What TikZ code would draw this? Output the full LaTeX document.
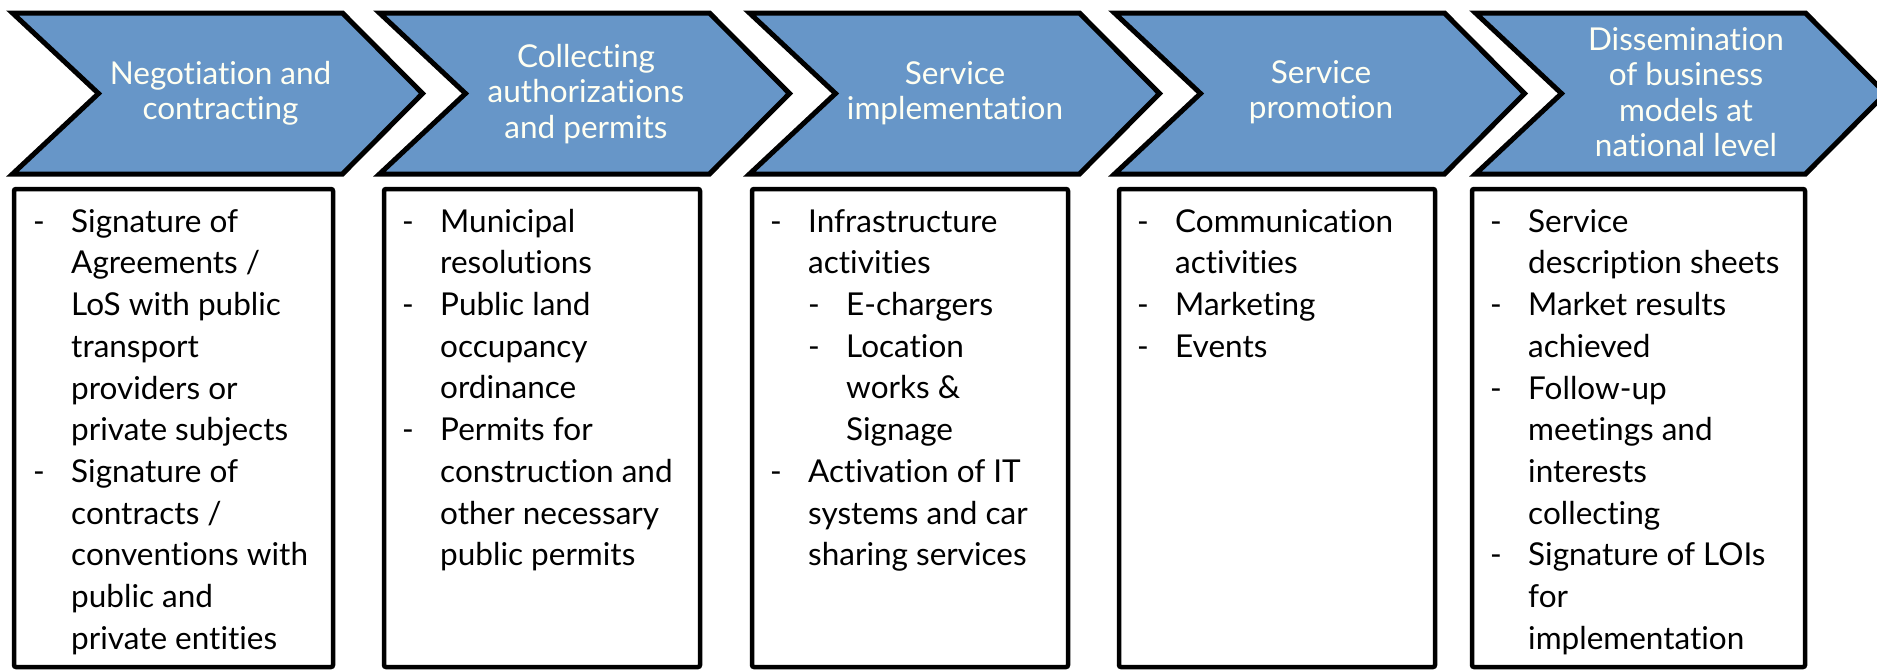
\documentclass[tikz,border=0pt]{standalone}
\usepackage{fontspec}
\setmainfont{Lato}[Ligatures={TeX,NoCommon}]
\definecolor{chevblue}{RGB}{103,150,200}
\definecolor{chevtext}{RGB}{255,255,242}
\newcommand\bitem{\makebox[38pt][l]{-}}
\newcommand\bcont{\hspace*{38pt}}
\begin{document}
\begin{tikzpicture}[x=1pt,y=-1pt,
  chev/.style={draw=black, line width=5pt, fill=chevblue, line join=miter},
  chevlabel/.style={text=chevtext, align=center, font=\fontsize{31.5}{35.5}\selectfont, inner sep=0pt, anchor=north},
  listbox/.style={draw=black, line width=4.5pt, rounded corners=2pt},
  listtext/.style={align=left, font=\fontsize{31.5}{41.7}\selectfont, inner sep=0pt, anchor=north west}]
\useasboundingbox (0,0) rectangle (1877,670);
\clip (0,0) rectangle (1877,670);
% chevrons
\foreach \L in {12.5,379.5,749.5,1114.5,1475.5}{
  \draw[chev] (\L,13) -- (\L+330,13) -- (\L+410,93.5) -- (\L+330,174) -- (\L,174) -- (\L+86,93.5) -- cycle;
}
\node[chevlabel] (c1) at (220.5,59.15) {\strut Negotiation and\\contracting};
\node[chevlabel] (c2) at (586,42.15) {\strut Collecting\\authorizations\\and permits};
\node[chevlabel] (c3) at (955,59.15) {\strut Service\\implementation};
\node[chevlabel] (c4) at (1321,58.15) {\strut Service\\promotion};
\node[chevlabel] (c5) at (1686,25.15) {\strut Dissemination\\of business\\models at\\national level};
% boxes
\draw[listbox] (14,189) rectangle (333,667);
\draw[listbox] (384,189) rectangle (700,667);
\draw[listbox] (752,189) rectangle (1068,667);
\draw[listbox] (1119,189) rectangle (1435,667);
\draw[listbox] (1472,189) rectangle (1805,667);
\node[listtext] (t1) at (33,202.8) {\strut\bitem Signature of\\ \bcont Agreements /\\ \bcont LoS with public\\ \bcont transport\\ \bcont providers or\\ \bcont private subjects\\ \bitem Signature of\\ \bcont contracts /\\ \bcont conventions with\\ \bcont public and\\ \bcont private entities};
\node[listtext] (t2) at (402,202.8) {\strut\bitem Municipal\\ \bcont resolutions\\ \bitem Public land\\ \bcont occupancy\\ \bcont ordinance\\ \bitem Permits for\\ \bcont construction and\\ \bcont other necessary\\ \bcont public permits};
\node[listtext] (t3) at (770,202.8) {\strut\bitem Infrastructure\\ \bcont activities\\ \bcont\bitem E-chargers\\ \bcont\bitem Location\\ \bcont\bcont works \&\\ \bcont\bcont Signage\\ \bitem Activation of IT\\ \bcont systems and car\\ \bcont sharing services};
\node[listtext] (t4) at (1137,202.8) {\strut\bitem Communication\\ \bcont activities\\ \bitem Marketing\\ \bitem Events};
\node[listtext] (t5) at (1490,202.8) {\strut\bitem Service\\ \bcont description sheets\\ \bitem Market results\\ \bcont achieved\\ \bitem Follow-up\\ \bcont meetings and\\ \bcont interests\\ \bcont collecting\\ \bitem Signature of LOIs\\ \bcont for\\ \bcont implementation};
\end{tikzpicture}
\end{document}
